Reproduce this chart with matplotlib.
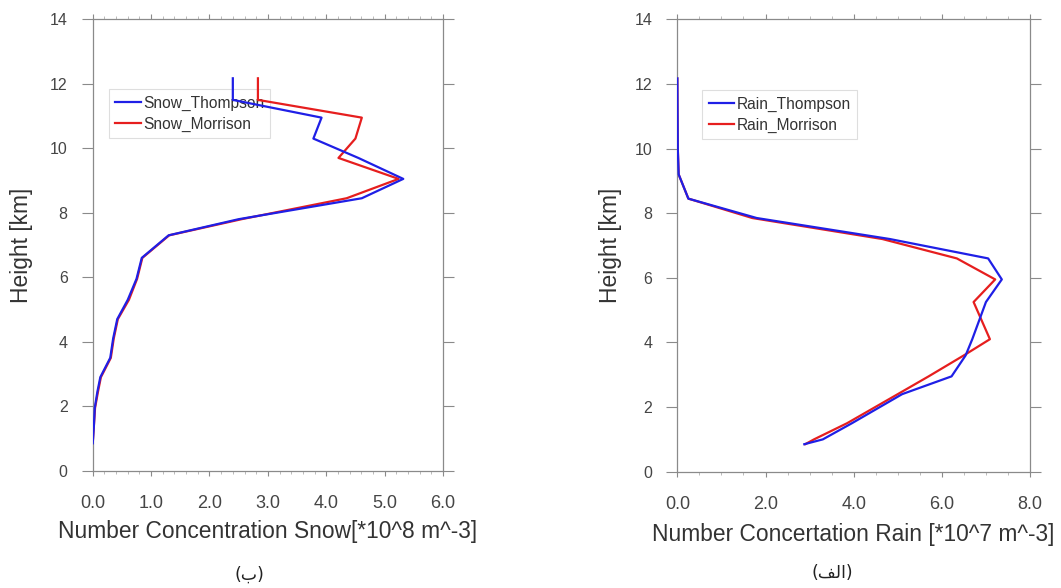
import matplotlib
matplotlib.use("Agg")
import matplotlib.pyplot as plt
from matplotlib.ticker import MultipleLocator, FormatStrFormatter

plt.rcParams['font.family'] = ['Liberation Sans', 'DejaVu Sans']

# snow number concentration profiles (*10^8 m^-3)
snow_height = [0.85, 1.4, 1.95, 2.45, 2.9, 3.5, 4.1, 4.7, 5.3, 5.95,
               6.6, 7.3, 7.8, 8.45, 9.05, 9.7, 10.3, 10.95, 11.5, 12.17]
snow_thompson = [0.0, 0.02, 0.035, 0.08, 0.13, 0.30, 0.35, 0.42, 0.60, 0.75,
                 0.84, 1.30, 2.50, 4.61, 5.32, 4.55, 3.78, 3.92, 2.40, 2.40]
snow_morrison = [0.0, 0.02, 0.04, 0.09, 0.14, 0.31, 0.36, 0.43, 0.62, 0.76,
                 0.85, 1.31, 2.55, 4.35, 5.24, 4.21, 4.50, 4.61, 2.83, 2.83]

# rain number concentration profiles (*10^7 m^-3)
rain_height = [0.85, 1.0, 1.5, 2.4, 2.95, 3.6, 4.1, 5.25, 5.95, 6.6,
               7.2, 7.85, 8.45, 9.2, 10.0, 11.0, 12.17]
rain_thompson = [2.88, 3.30, 3.96, 5.10, 6.22, 6.54, 6.69, 7.00, 7.36, 7.05,
                 4.82, 1.80, 0.25, 0.03, 0.01, 0.005, 0.0]
rain_morrison = [2.90, 3.10, 3.85, 5.00, 5.70, 6.50, 7.09, 6.72, 7.21, 6.34,
                 4.65, 1.70, 0.25, 0.03, 0.01, 0.005, 0.0]

grey = '#8a8a8a'
blue = '#1f1fe6'
red = '#e61e1e'


def style_axes(ax, xmax, xmajor, xminor):
    ax.set_xlim(0, xmax)
    ax.set_ylim(0, 14)
    ax.xaxis.set_major_locator(MultipleLocator(xmajor))
    ax.xaxis.set_minor_locator(MultipleLocator(xminor))
    ax.xaxis.set_major_formatter(FormatStrFormatter('%.1f'))
    ax.yaxis.set_major_locator(MultipleLocator(2))
    for s in ax.spines.values():
        s.set_color(grey)
        s.set_linewidth(0.9)
    ax.tick_params(axis='x', which='major', direction='out', top=True,
                   length=3.8, width=0.8, color=grey, labelsize=13,
                   labelcolor='#454545', pad=14)
    ax.tick_params(axis='x', which='minor', direction='out', top=True,
                   length=2.2, width=0.6, color='#b0b0b0')
    ax.tick_params(axis='y', which='major', direction='out', right=True,
                   length=8, width=0.8, color=grey, labelsize=11.5,
                   labelcolor='#454545', pad=10)


def draw_panel(ax, height, thompson, morrison, names, xlabel):
    ax.plot(thompson, height, color=blue, lw=1.6, label=names[0], zorder=3)
    ax.plot(morrison, height, color=red, lw=1.6, label=names[1], zorder=2)
    ax.set_xlabel(xlabel, fontsize=16.4, color='#333333')
    ax.set_ylabel('Height [km]', fontsize=16.4, color='#333333')


fig = plt.figure(figsize=(10.61, 5.88), dpi=100)
ax1 = fig.add_axes([0.0874, 0.1995, 0.3301, 0.7677])
ax2 = fig.add_axes([0.6384, 0.1978, 0.3324, 0.7694])

style_axes(ax1, 6, 1.0, 0.2)
style_axes(ax2, 8, 2.0, 0.5)

draw_panel(ax1, snow_height, snow_thompson, snow_morrison,
           ['Snow_Thompson', 'Snow_Morrison'],
           'Number Concentration Snow[*10^8 m^-3]')
draw_panel(ax2, rain_height, rain_thompson, rain_morrison,
           ['Rain_Thompson', 'Rain_Morrison'],
           'Number Concertation Rain [*10^7 m^-3]')

ax1.xaxis.set_label_coords(0.5, -0.109)
ax2.xaxis.set_label_coords(0.5, -0.113)
ax1.yaxis.set_label_coords(-0.170, 0.5)
ax2.yaxis.set_label_coords(-0.158, 0.5)

for ax, anchor in [(ax1, (0.0465, 0.8445)), (ax2, (0.0709, 0.8433))]:
    leg = ax.legend(loc='upper left', bbox_to_anchor=anchor, borderaxespad=0,
                    fontsize=11.2, handlelength=1.63, handletextpad=0.15,
                    labelspacing=0.38, borderpad=0.4, fancybox=False,
                    edgecolor='#dedede', framealpha=1)
    leg.get_frame().set_linewidth(0.8)
    for t in leg.get_texts():
        t.set_color('#333333')
    leg.set_zorder(1)

# panel captions
fig.text(249 / 1061, 1 - 575 / 588, '(\u0628)', ha='center', va='center',
         fontsize=12.5, family='DejaVu Sans', color='#222222')
fig.text(832 / 1061, 1 - 573.5 / 588, '(\ufed2\ufedf\ufe8d)', ha='center',
         va='center', fontsize=12.5, family='DejaVu Sans', color='#222222')

fig.savefig('out.png', dpi=100)
